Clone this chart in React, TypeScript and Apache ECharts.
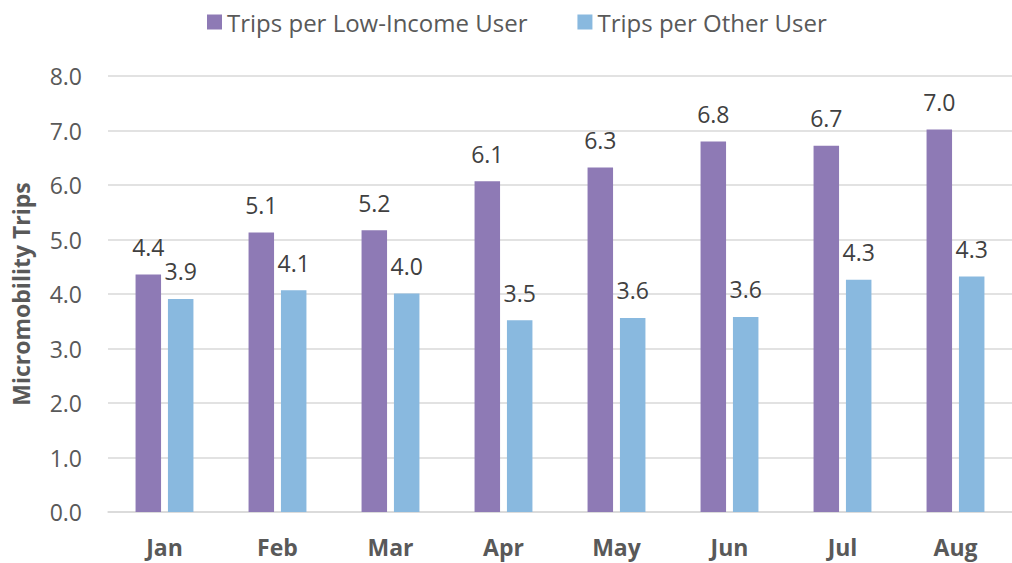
import React, { useEffect, useRef } from "react";
import * as echarts from "echarts";

const months = ["Jan", "Feb", "Mar", "Apr", "May", "Jun", "Jul", "Aug"];
const lowIncomeTrips = [4.36, 5.13, 5.17, 6.07, 6.32, 6.8, 6.72, 7.02];
const otherTrips = [3.91, 4.07, 4.01, 3.52, 3.56, 3.58, 4.26, 4.32];
const seriesNames = ["Trips per Low-Income User", "Trips per Other User"];
const yAxisTitle = "Micromobility Trips";

const FONT = "'Open Sans', 'Noto Sans', sans-serif";

export default function App() {
  const ref = useRef<HTMLDivElement>(null);

  useEffect(() => {
    if (!ref.current) return;
    const chart = echarts.init(ref.current, null, { renderer: "svg" });
    const labelStyle = {
      show: true,
      position: "top" as const,
      distance: 16,
      fontFamily: FONT,
      fontSize: 23,
      color: "#404040",
      formatter: (p: any) => Number(p.value).toFixed(1),
    };
    chart.setOption({
      animation: false,
      backgroundColor: "#ffffff",
      textStyle: { fontFamily: FONT },
      legend: {
        left: 202,
        top: 5,
        itemWidth: 15,
        itemHeight: 15,
        itemGap: 50,
        icon: "rect",
        textStyle: { fontFamily: FONT, fontSize: 24, color: "#595959" },
        data: seriesNames,
      },
      grid: { left: 108, top: 76, width: 913, height: 436 },
      xAxis: {
        type: "category",
        data: months,
        axisLine: { show: true, lineStyle: { color: "#D9D9D9", width: 1.5 } },
        axisTick: { show: false },
        axisLabel: {
          margin: 23,
          fontFamily: FONT,
          fontSize: 23,
          fontWeight: "bold",
          color: "#595959",
        },
      },
      yAxis: {
        type: "value",
        min: 0,
        max: 8,
        interval: 1,
        name: yAxisTitle,
        nameLocation: "middle",
        nameGap: 76,
        nameTextStyle: {
          fontFamily: FONT,
          fontSize: 23,
          fontWeight: "bold",
          color: "#595959",
        },
        axisLine: { show: false },
        axisTick: { show: false },
        splitLine: { show: true, lineStyle: { color: "#D9D9D9", width: 1.5 } },
        axisLabel: {
          margin: 26,
          fontFamily: FONT,
          fontSize: 23,
          color: "#595959",
          formatter: (v: number) => v.toFixed(1),
        },
      },
      series: [
        {
          name: seriesNames[0],
          type: "bar",
          data: lowIncomeTrips,
          barWidth: 25.5,
          barGap: "27%",
          itemStyle: { color: "#8E7AB5" },
          label: labelStyle,
        },
        {
          name: seriesNames[1],
          type: "bar",
          data: otherTrips,
          barWidth: 25.5,
          barGap: "27%",
          itemStyle: { color: "#89B9DF" },
          label: labelStyle,
        },
      ],
    });
    return () => chart.dispose();
  }, []);

  return (
    <div
      ref={ref}
      style={{ position: "absolute", left: 0, top: 0, width: 1012, height: 563 }}
    />
  );
}
